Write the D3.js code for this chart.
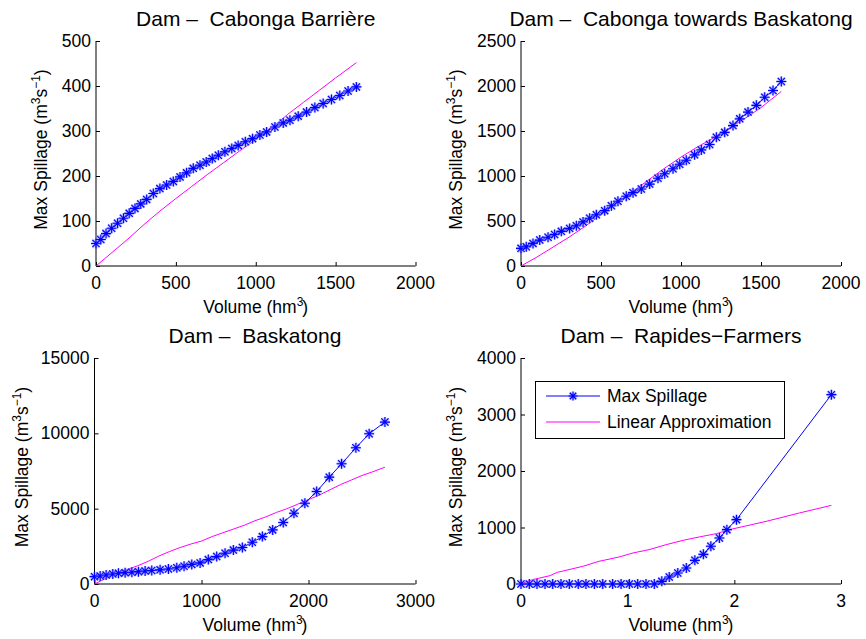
<!DOCTYPE html>
<html>
<head>
<meta charset="utf-8">
<script src="https://cdn.jsdelivr.net/npm/d3@7"></script>
<style>
  body { margin: 0; background: #fff; }
  svg text { font-family: "Liberation Sans", Arial, Helvetica, sans-serif; fill: #000; }
</style>
</head>
<body>
<div id="chart"></div>
<script>
// --- data ---
// Cabonga Barriere
const cbVolume = [0, 30, 63, 98, 135, 172, 208, 244, 280, 317, 359, 400, 442, 484, 526, 567, 609, 651, 690, 728, 766, 807, 850, 890, 935, 980, 1026, 1068, 1120, 1172, 1214, 1266, 1318, 1370, 1422, 1474, 1526, 1578, 1630];
const cbSpill = [50, 59, 72, 84, 95, 106, 117, 128, 138, 148, 161, 172, 180, 188, 198, 207, 217, 224, 231, 239, 246, 254, 261, 268, 276, 283, 291, 298, 309, 318, 324, 333, 342, 352, 361, 370, 379, 389, 398];
const cbLinVolume = [0, 100, 200, 300, 400, 500, 600, 700, 800, 900, 1000, 1100, 1200, 1300, 1400, 1500, 1630];
const cbLinear = [0, 30, 60, 92, 122, 150, 177, 204, 230, 256, 281, 307, 337, 364, 391, 418, 452];

// Cabonga towards Baskatong
const ctbVolume = [0, 33, 75, 117, 169, 210, 252, 304, 346, 388, 429, 471, 523, 565, 606, 658, 700, 752, 804, 856, 898, 950, 992, 1033, 1085, 1127, 1179, 1221, 1273, 1325, 1367, 1419, 1471, 1523, 1575, 1627];
const ctbSpill = [196, 214, 251, 288, 320, 350, 385, 418, 448, 490, 530, 570, 615, 670, 720, 775, 815, 855, 910, 975, 1025, 1080, 1130, 1175, 1235, 1290, 1350, 1430, 1485, 1560, 1635, 1710, 1785, 1875, 1950, 2050];
const ctbLinVolume = [0, 100, 200, 300, 400, 500, 600, 700, 800, 900, 1000, 1100, 1200, 1300, 1400, 1500, 1627];
const ctbLinear = [0, 100, 210, 320, 440, 570, 700, 830, 960, 1090, 1210, 1320, 1420, 1530, 1640, 1760, 1940];

// Baskatong
const bkVolume = [0, 53, 109, 171, 224, 286, 349, 411, 473, 535, 613, 691, 769, 837, 909, 987, 1064, 1142, 1220, 1298, 1382, 1475, 1569, 1665, 1764, 1864, 1966, 2076, 2194, 2309, 2443, 2567, 2714];
const bkSpill = [487, 532, 598, 665, 709, 753, 775, 820, 860, 900, 940, 1000, 1080, 1180, 1300, 1400, 1620, 1820, 2040, 2250, 2420, 2770, 3146, 3590, 4077, 4698, 5362, 6138, 7091, 7977, 9040, 9971, 10747];
const bkLinVolume = [0, 100, 200, 300, 400, 500, 600, 700, 800, 900, 1000, 1100, 1200, 1300, 1400, 1500, 1600, 1700, 1800, 1900, 2000, 2100, 2200, 2300, 2400, 2500, 2600, 2714];
const bkLinear = [0, 350, 700, 950, 1200, 1500, 1850, 2150, 2420, 2650, 2850, 3150, 3400, 3650, 3900, 4200, 4450, 4750, 5000, 5300, 5600, 5900, 6250, 6600, 6900, 7200, 7450, 7750];

// Rapides-Farmers
const rfVolume = [0, 0.078, 0.15, 0.225, 0.297, 0.375, 0.453, 0.537, 0.609, 0.688, 0.766, 0.859, 0.938, 1.016, 1.094, 1.172, 1.25, 1.32, 1.39, 1.47, 1.55, 1.63, 1.71, 1.78, 1.86, 1.93, 2.02, 2.91];
const rfSpill = [0, 0, 0, 0, 0, 0, 0, 0, 0, 0, 0, 0, 0, 0, 0, 0, 0, 47, 124, 195, 283, 419, 525, 667, 814, 962, 1139, 3351];
const rfLinVolume = [0, 0.11, 0.27, 0.34, 0.58, 0.73, 0.92, 1.05, 1.2, 1.36, 1.52, 1.67, 1.83, 1.98, 2.3, 2.61, 2.91];
const rfLinear = [0, 77, 147, 206, 313, 401, 478, 549, 608, 696, 773, 832, 891, 973, 1109, 1257, 1392];

const titles = ["Cabonga Barrière", "Cabonga towards Baskatong", "Baskatong", "Rapides\u2212Farmers"];
const xTicks = [[0, 500, 1000, 1500, 2000], [0, 500, 1000, 1500, 2000], [0, 1000, 2000, 3000], [0, 1, 2, 3]];
const yTicks = [[0, 100, 200, 300, 400, 500], [0, 500, 1000, 1500, 2000, 2500], [0, 5000, 10000, 15000], [0, 1000, 2000, 3000, 4000]];
const legendLabels = ["Max Spillage", "Linear Approximation"];

const W = 866, H = 639;
const BLUE = "#0000ff", MAGENTA = "#ff00ff";

const svg = d3.select("#chart").append("svg")
    .attr("width", W)
    .attr("height", H);

// panel boxes (pixel frames), one per subplot
const panels = [
    { left: 96,   right: 415.5, top: 41,  bottom: 266, yLabelX: 47,
      spill: [cbVolume, cbSpill], lin: [cbLinVolume, cbLinear] },
    { left: 521,  right: 841,   top: 41,  bottom: 266, yLabelX: 462,
      spill: [ctbVolume, ctbSpill], lin: [ctbLinVolume, ctbLinear] },
    { left: 94.5, right: 415.5, top: 358, bottom: 584, yLabelX: 28,
      spill: [bkVolume, bkSpill], lin: [bkLinVolume, bkLinear] },
    { left: 521,  right: 841,   top: 358, bottom: 584, yLabelX: 462,
      spill: [rfVolume, rfSpill], lin: [rfLinVolume, rfLinear] }
];

// MATLAB style '*' marker (with the soft halo seen in the figure)
function star(g, cx, cy, r) {
    const d = r * 0.72;
    const path = `M${cx - r},${cy}H${cx + r}M${cx},${cy - r}V${cy + r}` +
                 `M${cx - d},${cy - d}L${cx + d},${cy + d}M${cx - d},${cy + d}L${cx + d},${cy - d}`;
    g.append("path")
        .attr("d", path)
        .attr("stroke", "#7f86ff")
        .attr("stroke-width", 2.6)
        .attr("stroke-opacity", 0.55)
        .attr("fill", "none");
    g.append("path")
        .attr("d", path)
        .attr("stroke", BLUE)
        .attr("stroke-width", 1.1)
        .attr("fill", "none");
}

panels.forEach((p, i) => {
    const xt = xTicks[i], yt = yTicks[i];
    const x = d3.scaleLinear().domain([xt[0], xt[xt.length - 1]]).range([p.left, p.right]);
    const y = d3.scaleLinear().domain([yt[0], yt[yt.length - 1]]).range([p.bottom, p.top]);

    const g = svg.append("g");

    // axes (ticks point inward like MATLAB)
    g.append("g")
        .attr("transform", `translate(0,${p.bottom})`)
        .call(d3.axisTop(x).tickValues(xt).tickSize(4).tickFormat(""))
        .call(a => a.select(".domain").remove());
    g.append("g")
        .attr("transform", `translate(${p.left},0)`)
        .call(d3.axisRight(y).tickValues(yt).tickSize(4).tickFormat(""))
        .call(a => a.select(".domain").remove());
    g.selectAll(".tick line").attr("stroke", "#000");

    g.append("line")
        .attr("x1", p.left).attr("x2", p.right)
        .attr("y1", p.bottom).attr("y2", p.bottom)
        .attr("stroke", "#000");
    g.append("line")
        .attr("x1", p.left).attr("x2", p.left)
        .attr("y1", p.top).attr("y2", p.bottom)
        .attr("stroke", "#000");

    // tick labels
    g.selectAll(".xtl").data(xt).join("text")
        .attr("x", d => x(d))
        .attr("y", p.bottom + 23)
        .attr("text-anchor", "middle")
        .attr("font-size", "17.5px")
        .text(d => d);
    g.selectAll(".ytl").data(yt).join("text")
        .attr("x", p.left - 5)
        .attr("y", d => y(d) + 6)
        .attr("text-anchor", "end")
        .attr("font-size", "17.5px")
        .text(d => d);

    // title
    g.append("text")
        .attr("x", (p.left + p.right) / 2)
        .attr("y", p.top - 15)
        .attr("text-anchor", "middle")
        .attr("font-size", "21px")
        .attr("xml:space", "preserve")
        .text("Dam \u2013  " + titles[i]);

    // x label
    const xl = g.append("text")
        .attr("x", (p.left + p.right) / 2)
        .attr("y", p.bottom + 47)
        .attr("text-anchor", "middle")
        .attr("font-size", "17.5px");
    xl.append("tspan").text("Volume (hm");
    xl.append("tspan").attr("dy", -7).attr("font-size", "12px").text("3");
    xl.append("tspan").attr("dy", 7).attr("dx", -1).text(")");

    // y label
    const yl = g.append("text")
        .attr("transform", `translate(${p.yLabelX},${(p.top + p.bottom) / 2 - 4}) rotate(-90)`)
        .attr("text-anchor", "middle")
        .attr("font-size", "17.5px");
    yl.append("tspan").text("Max Spillage (m");
    yl.append("tspan").attr("dy", -7).attr("font-size", "12px").text("3");
    yl.append("tspan").attr("dy", 7).text("s");
    yl.append("tspan").attr("dy", -7).attr("font-size", "12px").text("\u22121");
    yl.append("tspan").attr("dy", 7).text(")");

    // linear approximation
    const linPts = p.lin[0].map((v, k) => [v, p.lin[1][k]]);
    g.append("path")
        .attr("d", d3.line().x(d => x(d[0])).y(d => y(d[1]))(linPts))
        .attr("fill", "none")
        .attr("stroke", MAGENTA)
        .attr("stroke-width", 1);

    // max spillage
    const spPts = p.spill[0].map((v, k) => [v, p.spill[1][k]]);
    g.append("path")
        .attr("d", d3.line().x(d => x(d[0])).y(d => y(d[1]))(spPts))
        .attr("fill", "none")
        .attr("stroke", BLUE)
        .attr("stroke-width", 1);
    spPts.forEach(d => star(g, x(d[0]), y(d[1]), 5));
});

// legend in last panel
const lg = svg.append("g");
lg.append("rect")
    .attr("x", 535.5).attr("y", 381.5)
    .attr("width", 249).attr("height", 57)
    .attr("fill", "#fff")
    .attr("stroke", "#000");
legendLabels.forEach((lab, k) => {
    const cy = 396 + k * 26;
    lg.append("line")
        .attr("x1", 546).attr("x2", 600)
        .attr("y1", cy).attr("y2", cy)
        .attr("stroke", k === 0 ? BLUE : MAGENTA);
    if (k === 0) star(lg, 573, cy, 4.5);
    lg.append("text")
        .attr("x", 607).attr("y", cy + 6)
        .attr("font-size", "17.5px")
        .text(lab);
});
</script>
</body>
</html>
